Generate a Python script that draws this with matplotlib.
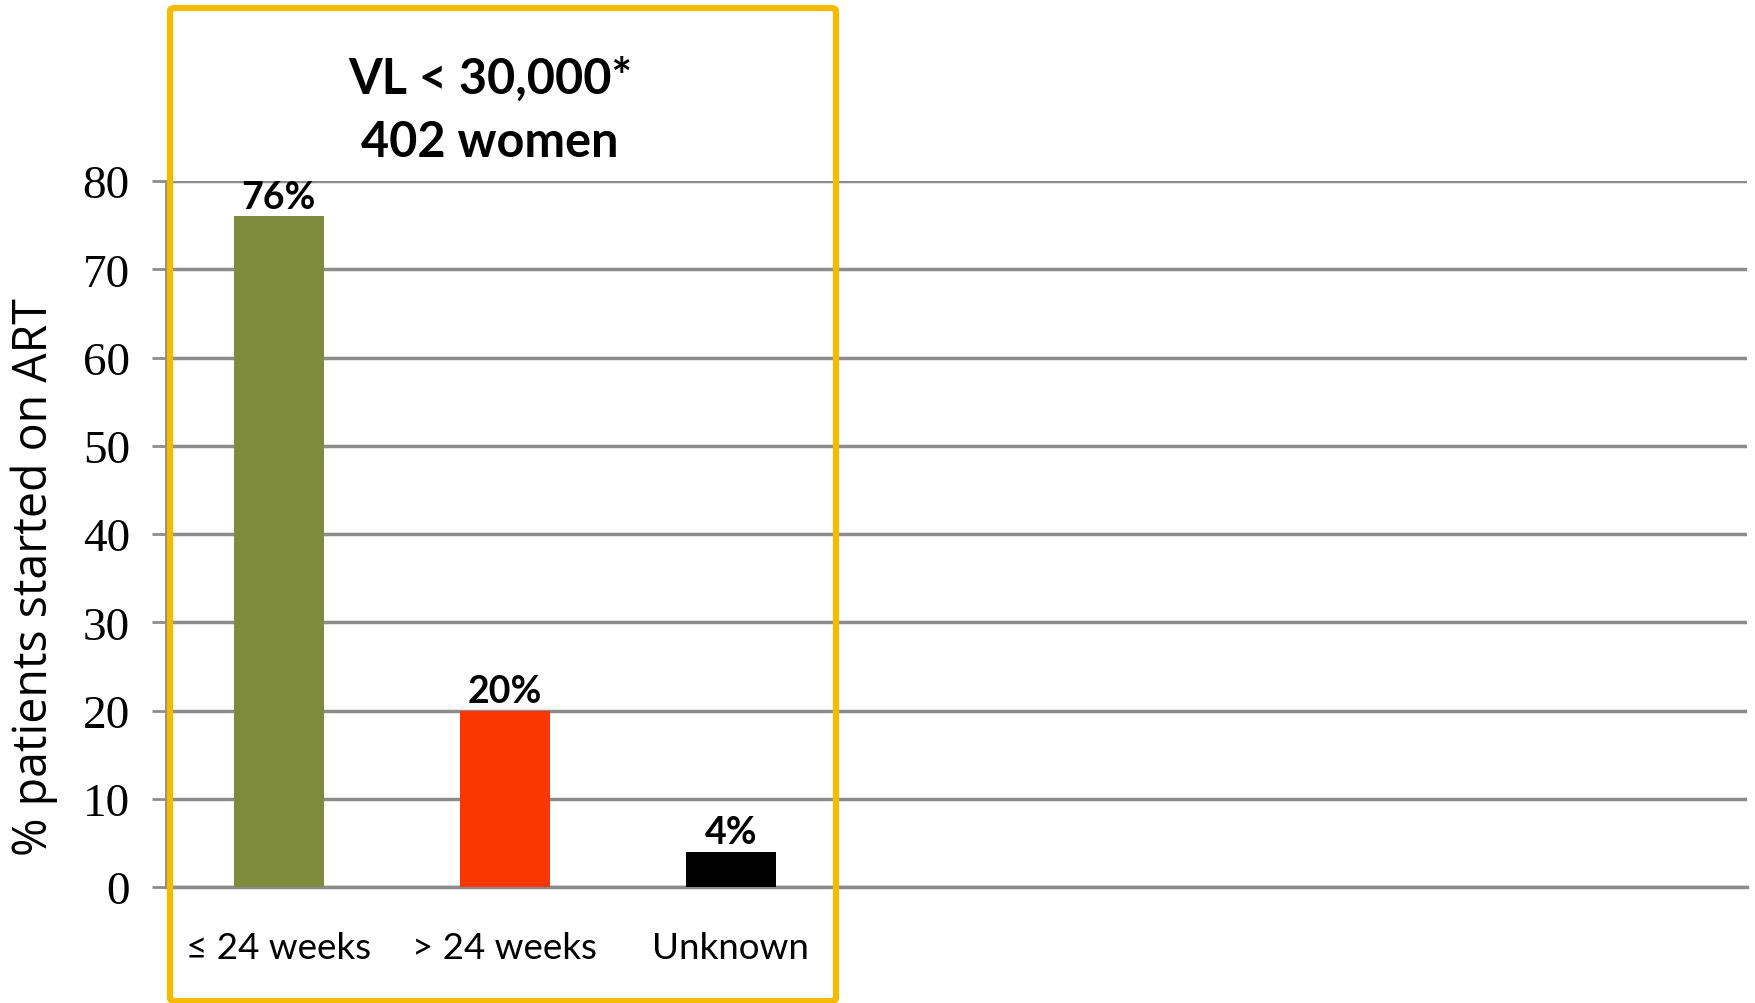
import matplotlib
matplotlib.use('Agg')
import matplotlib.pyplot as plt
from matplotlib.patches import FancyBboxPatch

categories = ['≤ 24 weeks', '> 24 weeks', 'Unknown']
values = [76, 20, 4]
labels = ['76%', '20%', '4%']
colors = ['#7F8B3C', '#FA3700', '#000000']
yticks = [0, 10, 20, 30, 40, 50, 60, 70, 80]
title_lines = 'VL < 30,000*\n402 women'

fig = plt.figure(figsize=(17.56, 10.04), dpi=100)
ax = fig.add_axes([0.0945, 0.1155, 0.9005, 0.7032])

x = list(range(len(categories)))
ax.bar(x, values, width=0.40, color=colors, zorder=3)
for i in x:
    ax.text(i, values[i] + 0.3, labels[i], ha='center', va='bottom',
            fontsize=27, fontweight='bold', family=['Lato', 'DejaVu Sans'], zorder=4)

ax.set_xlim(-0.5, 6.5)
ax.set_ylim(0, 80)
ax.set_yticks(yticks)
ax.set_yticklabels([str(t) for t in yticks], family='Liberation Serif', fontsize=34)
ax.tick_params(axis='y', length=10, width=2, color='#8C8C8C', pad=16)
ax.tick_params(axis='x', length=0, pad=32)
ax.set_xticks(x)
ax.set_xticklabels(categories, family=['Lato', 'DejaVu Sans'], fontsize=26.5)
ax.yaxis.grid(True, color='#8C8C8C', linewidth=2.5, zorder=0)
for s in ['top', 'right']:
    ax.spines[s].set_visible(False)
ax.spines['bottom'].set_color('#8C8C8C')
ax.spines['bottom'].set_linewidth(2.5)
ax.spines['left'].set_color('#8C8C8C')
ax.spines['left'].set_linewidth(2)

ax.set_ylabel('% patients started on ART', family='Open Sans', fontsize=33.5)
ax.yaxis.set_label_coords(-0.068, 0.44)

fig.text(490 / 1756, 1 - 111 / 1004, title_lines, ha='center', va='center',
         fontsize=35, fontweight='bold', family=['Lato', 'DejaVu Sans'], linespacing=1.5)

box = FancyBboxPatch((170 / 1756, 2 / 1004), (836 - 170) / 1756, (995 - 2) / 1004,
                     boxstyle='round,pad=0,rounding_size=0.003', transform=fig.transFigure,
                     fill=False, edgecolor='#F4BB00', linewidth=4.5, zorder=10)
fig.patches.append(box)

fig.savefig('out.png', dpi=100)
